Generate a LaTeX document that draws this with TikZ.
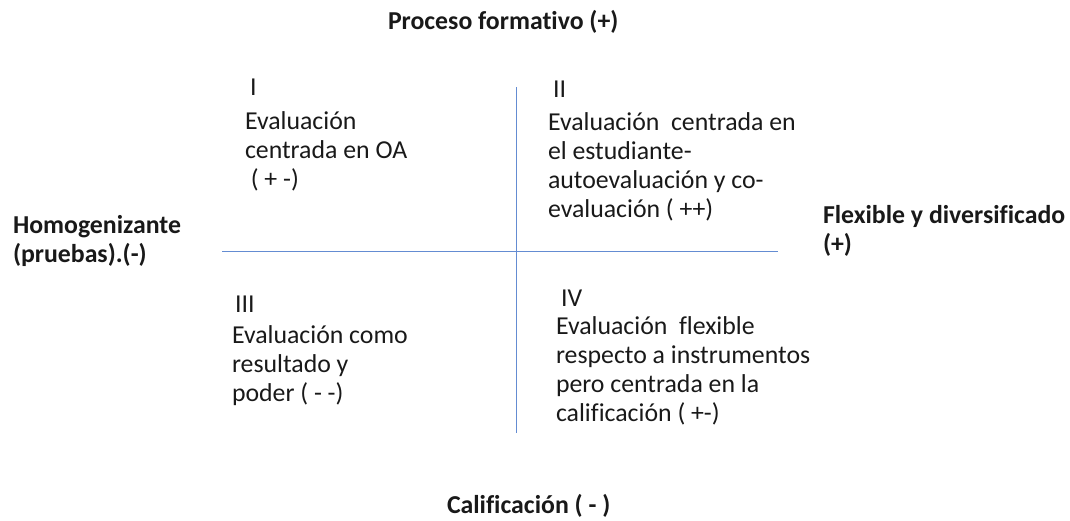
\documentclass[tikz,border=0pt]{standalone}
\usepackage{fontspec}
\setmainfont{Carlito}[Ligatures=CommonOff]
\definecolor{axisblue}{RGB}{100,140,210}
\tikzset{
  x=1pt, y=-1pt,
  txt/.style={inner sep=0pt, outer sep=0pt, anchor=base west, align=left,
    font=\fontsize{25.8}{29}\selectfont, text=black!90},
  lbl/.style={txt, font=\fontsize{25.8}{29.5}\selectfont\bfseries},
  axis/.style={draw=axisblue, line width=1pt}
}
\begin{document}
\begin{tikzpicture}
\useasboundingbox (0,0) rectangle (1070,520);
% axes
\coordinate (hl) at (222,251);
\coordinate (hr) at (778,251);
\coordinate (vt) at (516,87);
\coordinate (vb) at (516,433);
\draw[axis] (hl) -- (hr);
\draw[axis] (vt) -- (vb);
% axis labels (base anchor = baseline of the last line)
\node[lbl] (top) at (388,29) {Proceso formativo (+)};
\node[lbl] (bottom) at (447,513) {Calificación ( - )};
\node[lbl] (left) at (13,262.5) {Homogenizante\\(pruebas).(-)};
\node[lbl] (right) at (823,252.5) {Flexible y diversificado\\(+)};
% quadrant I
\node[txt] (n1) at (250,95) {I};
\node[txt] (q1) at (245,187) {Evaluación\\centrada en OA\\\hspace*{5.8pt}( + -)};
% quadrant II
\node[txt] (n2) at (553,97) {II};
\node[txt] (q2) at (548,217) {Evaluación\ \ centrada en\\el estudiante-\\autoevaluación y co-\\evaluación ( ++)};
% quadrant III
\node[txt] (n3) at (235,312) {III};
\node[txt] (q3) at (232,401) {Evaluación como\\resultado y\\poder ( - -)};
% quadrant IV
\node[txt] (n4) at (561,306) {IV};
\node[txt] (q4) at (556,421) {Evaluación\ \ flexible\\respecto a instrumentos\\pero centrada en la\\calificación ( +-)};
\end{tikzpicture}
\end{document}
